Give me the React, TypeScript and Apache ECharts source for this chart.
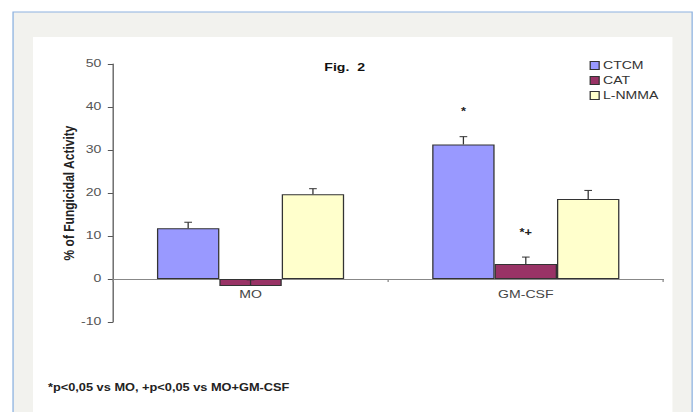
import React, { useEffect, useRef } from "react";
import * as echarts from "echarts";

const categories = ["MO", "GM-CSF"];
const seriesNames = ["CTCM", "CAT", "L-NMMA"];
const ctcmValues = [11.8, 31.3];
const catValues = [-1.6, 3.5];
const lnmmaValues = [19.7, 18.6];
const ctcmErr = [1.4, 1.8];
const catErr = [1.4, 1.6];
const lnmmaErr = [1.3, 2.0];
const yTicks = { min: -10, max: 50, interval: 10 };
const annotCat = [1, 1];
const annotSeries = [0, 1];
const annotValue = [39, 10.9];
const annotText = ["*", "*+"];
const titleText = "Fig.  2";
const yAxisName = "% of Fungicidal Activity";
const footnote = "*p<0,05 vs MO, +p<0,05 vs MO+GM-CSF";

const colors = ["#9999ff", "#993366", "#ffffcc"];
const GAP = 0.32;
const FONT = "'Liberation Sans', Arial, sans-serif";

const W = 545;
const H = 412;
const SX = 697 / W;
const GRID_TOP = 64;
const GRID_BOTTOM = 90;

export default function App() {
  const ref = useRef<HTMLDivElement>(null);
  useEffect(() => {
    if (!ref.current) return;
    const chart = echarts.init(ref.current, null, { renderer: "svg", width: W, height: H });
    const values = [ctcmValues, catValues, lnmmaValues];
    const errs = [ctcmErr, catErr, lnmmaErr];
    const errData: number[][] = [];
    values.forEach((vals, s) => {
      vals.forEach((v, c) => {
        errData.push([c, s, v, v + errs[s][c]]);
      });
    });
    const annData = annotCat.map((c, i) => [c, annotSeries[i], annotValue[i]]);

    const offsetX = (api: any, cat: number, s: number) => {
      const band = api.size([1, 0])[0];
      const bw = (band * (1 - GAP)) / 3;
      return api.coord([cat, 0])[0] - 1.5 * bw + (s + 0.5) * bw;
    };

    // distance from the grid bottom (y = min) up to y = 0, so the category axis sits on zero
    const gridH = H - GRID_TOP - GRID_BOTTOM;
    const zeroOffset = -gridH * (0 - yTicks.min) / (yTicks.max - yTicks.min);

    chart.setOption({
      animation: false,
      backgroundColor: "#ffffff",
      textStyle: { fontFamily: FONT },
      graphic: [
        {
          type: "rect",
          z: -10,
          shape: { x: 10.2, y: 12, width: 531, height: 430 },
          style: { fill: "#f2f2ee", stroke: "#8db2e0", lineWidth: 1 },
        },
        {
          type: "rect",
          z: -9,
          shape: { x: 25.8, y: 37, width: 500, height: 420 },
          style: { fill: "#ffffff" },
        },
        {
          type: "text",
          z: 50,
          x: 269.5,
          y: 68,
          style: {
            text: titleText,
            font: `bold 11px ${FONT}`,
            fill: "#111",
            align: "center",
            verticalAlign: "middle",
          },
        },
        {
          type: "text",
          z: 50,
          x: 37.5,
          y: 388,
          style: {
            text: footnote,
            font: `bold 10px ${FONT}`,
            fill: "#222",
            align: "left",
            verticalAlign: "middle",
          },
        },
      ],
      legend: {
        orient: "vertical",
        left: 456,
        top: 55,
        itemWidth: 7,
        itemHeight: 8,
        itemGap: 4,
        icon: "rect",
        data: seriesNames,
        itemStyle: { borderColor: "#333", borderWidth: 1 },
        textStyle: { fontSize: 11, color: "#333", fontFamily: FONT, padding: [0, 0, 0, -2] },
      },
      grid: { left: 88.3, right: 26.25, top: GRID_TOP, bottom: GRID_BOTTOM, containLabel: false },
      xAxis: {
        type: "category",
        data: categories,
        offset: zeroOffset,
        axisLine: { onZero: false, lineStyle: { color: "#888", width: 1 } },
        axisTick: { show: true, length: 3, lineStyle: { color: "#888" } },
        axisLabel: { margin: 10, fontSize: 11, color: "#444", fontFamily: FONT },
        splitLine: { show: false },
      },
      yAxis: {
        type: "value",
        min: yTicks.min,
        max: yTicks.max,
        interval: yTicks.interval,
        name: yAxisName,
        nameLocation: "middle",
        nameGap: 28,
        nameMoveOverlap: false,
        nameTextStyle: { fontSize: 12, fontWeight: "bold", color: "#222", fontFamily: FONT },
        axisLine: { show: true, lineStyle: { color: "#555", width: 1 } },
        axisTick: { show: true, length: 4, lineStyle: { color: "#555" } },
        axisLabel: { margin: 9, fontSize: 11, color: "#555", fontFamily: FONT },
        splitLine: { show: false },
      },
      series: [
        ...values.map((vals, s) => ({
          name: seriesNames[s],
          type: "bar",
          data: vals,
          barGap: "0%",
          barCategoryGap: `${GAP * 100}%`,
          itemStyle: { color: colors[s], borderColor: "#333", borderWidth: 1 },
          z: 2,
        })),
        {
          type: "custom",
          name: "err",
          data: errData,
          z: 5,
          encode: { x: 0, y: [2, 3] },
          renderItem: (params: any, api: any) => {
            const cat = api.value(0);
            const s = api.value(1);
            const cx = offsetX(api, cat, s);
            const y0 = api.coord([cat, api.value(2)])[1];
            const y1 = api.coord([cat, api.value(3)])[1];
            return {
              type: "group",
              children: [
                { type: "line", shape: { x1: cx, y1: y0, x2: cx, y2: y1 }, style: { stroke: "#333", lineWidth: 1 } },
                { type: "line", shape: { x1: cx - 3, y1: y1, x2: cx + 3, y2: y1 }, style: { stroke: "#333", lineWidth: 1 } },
              ],
            };
          },
        },
        {
          type: "custom",
          name: "annot",
          data: annData,
          z: 5,
          encode: { x: 0, y: 2 },
          renderItem: (params: any, api: any) => {
            const cat = api.value(0);
            const s = api.value(1);
            const cx = offsetX(api, cat, s);
            const y = api.coord([cat, api.value(2)])[1];
            return {
              type: "text",
              x: cx,
              y: y,
              style: {
                text: annotText[params.dataIndex],
                font: `bold 10px ${FONT}`,
                fill: "#222",
                align: "center",
                verticalAlign: "middle",
              },
            };
          },
        },
      ],
    });
    return () => chart.dispose();
  }, []);
  return (
    <div
      ref={ref}
      style={{
        position: "fixed",
        left: 0,
        top: 0,
        width: W,
        height: H,
        transform: `scaleX(${SX})`,
        transformOrigin: "0 0",
      }}
    />
  );
}
